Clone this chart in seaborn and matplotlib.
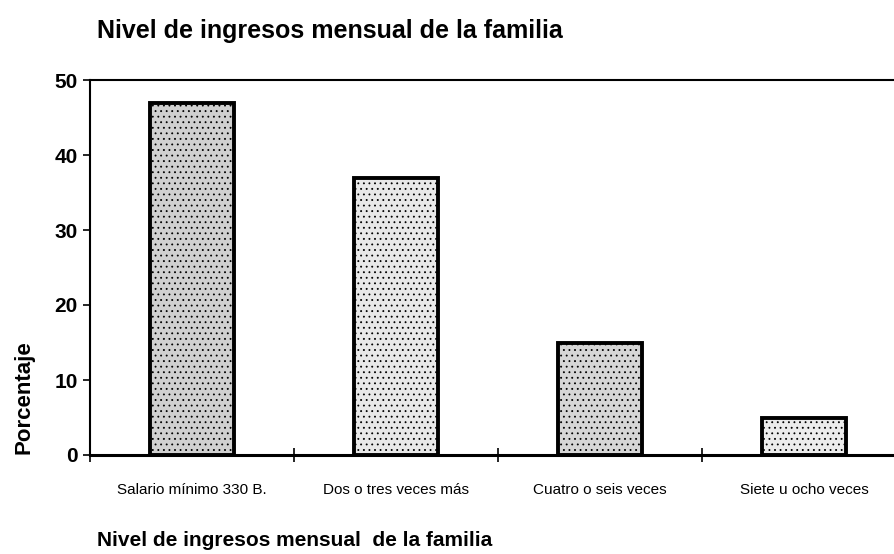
import matplotlib
matplotlib.use("Agg")
import matplotlib.pyplot as plt
import seaborn as sns

categorias = ["Salario mínimo 330 B.", "Dos o tres veces más", "Cuatro o seis veces", "Siete u ocho veces"]
porcentaje = [47, 37, 15, 5]
colores = ["#d0d0d0", "#e8e8e8", "#d6d6d6", "#ececec"]

sns.set_style("white")
plt.rcParams["font.family"] = ["Liberation Sans", "DejaVu Sans"]
plt.rcParams["text.color"] = "black"
plt.rcParams["axes.labelcolor"] = "black"
plt.rcParams["xtick.color"] = "black"
plt.rcParams["ytick.color"] = "black"
plt.rcParams["hatch.color"] = "#666666"
plt.rcParams["hatch.linewidth"] = 0.6

fig = plt.figure(figsize=(8.94, 5.54), dpi=100)
ax = fig.add_axes([90 / 894, 99 / 554, 1 - 90 / 894, 375 / 554])

sns.barplot(x=categorias, y=porcentaje, hue=categorias, palette=colores,
            width=0.41, edgecolor="black", linewidth=2.8, legend=False, ax=ax)
for p in ax.patches:
    p.set_hatch("...")

ax.set_xlim(-0.5, 3.44)
ax.set_ylim(0, 50)
ax.set_yticks([0, 10, 20, 30, 40, 50])
ax.tick_params(axis="y", labelsize=15, length=5, width=1.2, direction="out", left=True, pad=4)
ax.set_xticks(range(len(categorias)))
ax.set_xticklabels(categorias, fontsize=11)
ax.tick_params(axis="x", which="major", length=0, pad=20)
ax.set_xticks([-0.5, 0.5, 1.5, 2.5], minor=True)
ax.tick_params(axis="x", which="minor", length=10, width=1.2, direction="inout", bottom=True)
for lab in ax.get_yticklabels():
    lab.set_fontweight("bold")

for s in ["left", "bottom", "top"]:
    ax.spines[s].set_visible(True)
    ax.spines[s].set_color("black")
ax.spines["left"].set_linewidth(1.5)
ax.spines["bottom"].set_linewidth(2.2)
ax.spines["top"].set_linewidth(1.5)
ax.spines["right"].set_visible(False)

ax.set_ylabel("Porcentaje", fontsize=16, fontweight="bold", va="center")
ax.yaxis.set_label_coords(-66 / 804, 0.155)
ax.set_xlabel("Nivel de ingresos mensual  de la familia", fontsize=15, fontweight="bold",
              ha="left", va="center")
ax.xaxis.set_label_coords(7 / 804, -0.227)

fig.text(97 / 894, 1 - 31 / 554, "Nivel de ingresos mensual de la familia",
         fontsize=18, fontweight="bold", va="center", ha="left")

fig.savefig("out.png", dpi=100)
